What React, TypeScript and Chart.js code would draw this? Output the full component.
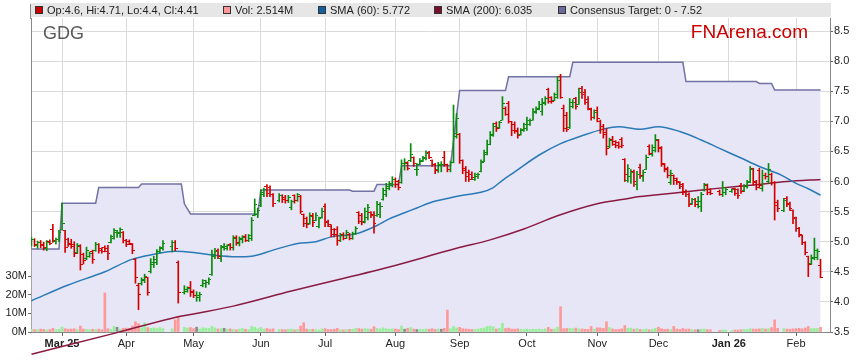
import { useEffect, useRef } from 'react';
import { Chart, registerables } from 'chart.js';

Chart.register(...registerables);

const FONT = '"Liberation Sans", Arial, Helvetica, sans-serif';

// ---- Daily OHLC (weekday slots from 17 Feb 2025 to 12 Feb 2026; null = market holiday) ----
const OPEN = [
  4.95, 5.03, 4.93, 4.98, 4.95, 4.89, 5.01, 5.20, 5.00, 5.03,
  5.20, 5.18, 5.04, 4.97, 4.95, 4.82, 4.92, 4.78, 4.72, 4.76,
  4.84, 4.86, 4.95, 4.88, 4.90, 4.88, 4.99, 5.06, 5.15, 5.14,
  5.15, 5.02, 5.00, 4.96, 4.70, 4.28, 4.30, 4.36, 4.40, 4.50,
  4.62, 4.66, 4.83, 4.88, null, null, 4.92, 4.98, 4.65, null,
  4.15, 4.17, 4.24, 4.18, 4.10, 4.07, 4.27, 4.30, 4.33, 4.45,
  4.76, 4.86, 4.72, 4.92, 4.88, 4.95, 4.90, 5.07, 4.97, 5.04,
  5.08, 5.02, 5.05, 5.44, 5.45, 5.60, 5.78, 5.92, 5.90, 5.78,
  null, 5.68, 5.76, 5.74, 5.68, 5.56, 5.76, 5.68, 5.75, 5.45,
  5.38, 5.30, 5.44, 5.36, 5.25, 5.40, 5.58, 5.34, 5.26, 5.20,
  5.20, 5.02, 5.12, 5.06, 5.12, 5.06, 5.14, 5.48, 5.44, 5.33,
  5.40, 5.48, 5.46, 5.44, 5.45, 5.70, 5.78, 5.88, 5.93, 6.04,
  6.00, 5.98, 6.30, 6.32, 6.35, 6.40, 6.20, 6.28, 6.34, 6.38,
  6.48, 6.35, 6.28, 6.20, 6.28, 6.40, 6.28, 6.20, 6.32, 6.75,
  6.78, 6.35, 6.22, 6.15, 6.12, 6.04, 6.08, 6.16, 6.34, 6.45,
  6.62, 6.76, 6.96, 6.90, 7.02, 7.22, 7.30, 7.00, 6.95, 6.85,
  6.78, 6.85, 6.88, 6.95, 7.02, 7.14, 7.20, 7.16, 7.30, 7.52,
  7.40, 7.35, 7.40, 7.75, 7.22, 7.10, 6.90, 7.25, 7.38, 7.28,
  7.55, 7.48, 7.36, 7.20, 7.06, 7.18, 7.00, 6.92, 6.82, 6.58,
  6.70, 6.66, 6.64, 6.70, 6.36, 6.02, 6.08, 6.16, 5.95, 6.24,
  6.08, 6.20, 6.58, 6.45, 6.52, 6.68, 6.56, 6.28, 6.22, 5.98,
  6.10, 6.05, 6.00, 5.95, 5.84, 5.78, 5.63, 5.70, 5.66, 5.58,
  5.85, 5.94, 5.86, null, null, 5.84, 5.78, 5.82, null, 5.84,
  5.88, 5.86, 5.94, 5.85, 5.92, 6.00, 6.22, 6.00, 6.18, 5.88,
  6.10, 6.00, 6.12, 5.98, 5.65, null, 5.52, 5.72, 5.64, 5.52,
  5.40, 5.22, 5.10, 4.98, 4.75, 4.64, 4.72, 4.74, 4.60,
];
const HIGH = [
  5.07, 5.05, 5.01, 5.02, 4.99, 5.02, 5.03, 5.29, 5.06, 5.19,
  5.64, 5.19, 5.06, 5.04, 5.00, 4.97, 4.95, 4.81, 4.91, 4.83,
  4.86, 4.99, 4.97, 4.90, 4.93, 4.94, 5.11, 5.22, 5.19, 5.23,
  5.17, 5.04, 5.03, 4.97, 4.72, 4.31, 4.40, 4.46, 4.41, 4.72,
  4.76, 4.87, 4.92, 5.02, null, null, 5.02, 5.02, 4.68, null,
  4.27, 4.25, 4.34, 4.20, 4.17, 4.16, 4.37, 4.36, 4.40, 4.86,
  4.89, 4.88, 4.94, 4.97, 4.95, 4.97, 5.10, 5.10, 5.08, 5.10,
  5.12, 5.12, 5.40, 5.71, 5.56, 5.86, 5.89, 5.95, 5.93, 5.80,
  null, 5.80, 5.78, 5.77, 5.77, 5.69, 5.78, 5.80, 5.77, 5.46,
  5.41, 5.48, 5.47, 5.48, 5.41, 5.56, 5.63, 5.36, 5.28, 5.22,
  5.25, 5.14, 5.15, 5.19, 5.14, 5.16, 5.25, 5.50, 5.47, 5.56,
  5.62, 5.50, 5.50, 5.67, 5.65, 5.89, 5.97, 6.00, 6.08, 6.06,
  6.02, 6.36, 6.38, 6.33, 6.63, 6.41, 6.30, 6.38, 6.42, 6.51,
  6.50, 6.36, 6.30, 6.32, 6.33, 6.50, 6.29, 6.34, 7.27, 7.13,
  6.80, 6.36, 6.25, 6.19, 6.16, 6.14, 6.14, 6.36, 6.52, 6.69,
  6.83, 6.97, 6.99, 7.00, 7.41, 7.24, 7.33, 7.00, 6.99, 6.89,
  6.88, 6.97, 7.07, 7.04, 7.21, 7.24, 7.33, 7.38, 7.41, 7.55,
  7.41, 7.47, 7.74, 7.78, 7.27, 7.15, 7.38, 7.36, 7.40, 7.55,
  7.58, 7.53, 7.41, 7.22, 7.19, 7.24, 7.02, 6.95, 6.88, 6.72,
  6.75, 6.68, 6.66, 6.73, 6.38, 6.28, 6.20, 6.19, 6.17, 6.29,
  6.19, 6.44, 6.61, 6.61, 6.78, 6.70, 6.58, 6.30, 6.24, 6.19,
  6.11, 6.06, 6.00, 5.97, 5.86, 5.81, 5.72, 5.72, 5.75, 5.82,
  5.97, 5.96, 5.88, null, null, 5.86, 6.00, 5.89, null, 5.88,
  5.89, 5.88, 5.97, 5.95, 6.02, 6.25, 6.22, 6.02, 6.22, 6.19,
  6.14, 6.30, 6.14, 6.00, 5.69, null, 5.72, 5.75, 5.66, 5.53,
  5.41, 5.24, 5.11, 5.00, 4.76, 4.78, 5.06, 4.88, 4.71,
];
const LOW = [
  4.93, 4.92, 4.89, 4.90, 4.86, 4.85, 4.95, 4.99, 4.96, 5.00,
  5.19, 4.82, 4.92, 4.89, 4.75, 4.80, 4.53, 4.63, 4.70, 4.74,
  4.64, 4.84, 4.81, 4.81, 4.83, 4.70, 4.98, 5.04, 5.07, 5.07,
  4.98, 4.92, 4.95, 4.80, 4.31, 3.87, 4.28, 4.32, 4.11, 4.48,
  4.57, 4.62, 4.81, 4.86, null, null, 4.83, 4.85, 3.98, null,
  4.13, 4.16, 4.09, 4.07, 4.01, 4.01, 4.25, 4.24, 4.29, 4.44,
  4.72, 4.72, 4.67, 4.86, 4.86, 4.86, 4.86, 4.94, 4.93, 4.98,
  5.00, 5.00, 5.02, 5.43, 5.40, 5.58, 5.75, 5.75, 5.75, 5.58,
  null, 5.66, 5.65, 5.64, 5.65, 5.53, 5.64, 5.67, 5.47, 5.25,
  5.23, 5.29, 5.25, 5.35, 5.23, 5.39, 5.25, 5.25, 5.08, 5.08,
  4.94, 5.00, 5.03, 5.05, 5.03, 5.04, 5.12, 5.30, 5.28, 5.31,
  5.36, 5.40, 5.14, 5.42, 5.40, 5.69, 5.75, 5.86, 5.91, 5.90,
  5.86, 5.97, 6.19, 6.19, 6.33, 6.25, 6.10, 6.28, 6.33, 6.36,
  6.38, 6.25, 6.13, 6.15, 6.16, 6.25, 6.16, 6.16, 6.31, 6.72,
  6.30, 6.13, 6.00, 6.00, 6.03, 6.02, 6.05, 6.16, 6.33, 6.44,
  6.61, 6.75, 6.83, 6.88, 7.02, 7.10, 6.97, 6.76, 6.80, 6.72,
  6.77, 6.83, 6.85, 6.93, 7.02, 7.13, 7.19, 7.10, 7.27, 7.30,
  7.30, 7.34, 7.38, 7.38, 6.83, 6.83, 6.88, 7.22, 7.20, 7.28,
  7.38, 7.28, 7.19, 7.02, 7.04, 6.99, 6.80, 6.72, 6.44, 6.56,
  6.60, 6.56, 6.55, 6.56, 6.00, 5.99, 5.97, 5.92, 5.86, 6.05,
  6.00, 6.20, 6.44, 6.42, 6.49, 6.49, 6.25, 6.16, 6.06, 5.95,
  5.95, 5.95, 5.88, 5.78, 5.75, 5.58, 5.62, 5.58, 5.56, 5.50,
  5.84, 5.78, 5.78, null, null, 5.77, 5.75, 5.78, null, 5.82,
  5.77, 5.72, 5.80, 5.83, 5.89, 5.98, 5.94, 5.86, 5.89, 5.84,
  6.04, 5.97, 5.94, 5.36, 5.50, null, 5.50, 5.58, 5.52, 5.30,
  5.17, 5.08, 4.95, 4.78, 4.42, 4.62, 4.70, 4.70, 4.40,
];
const CLOSE = [
  5.03, 4.95, 4.99, 4.93, 4.90, 4.99, 4.97, 5.02, 5.04, 5.15,
  5.30, 4.90, 4.95, 4.92, 4.80, 4.93, 4.62, 4.68, 4.86, 4.80,
  4.70, 4.95, 4.86, 4.84, 4.84, 4.80, 5.08, 5.18, 5.15, 5.20,
  5.02, 4.96, 4.97, 4.85, 4.40, 4.12, 4.37, 4.42, 4.15, 4.66,
  4.70, 4.83, 4.90, 4.97, null, null, 4.98, 4.88, 4.15, null,
  4.20, 4.22, 4.15, 4.10, 4.10, 4.12, 4.35, 4.33, 4.38, 4.78,
  4.84, 4.76, 4.90, 4.92, 4.93, 4.90, 5.05, 4.98, 5.05, 5.07,
  5.02, 5.10, 5.36, 5.62, 5.52, 5.82, 5.87, 5.80, 5.78, 5.64,
  null, 5.76, 5.70, 5.68, 5.74, 5.66, 5.68, 5.78, 5.50, 5.30,
  5.28, 5.42, 5.32, 5.44, 5.38, 5.50, 5.32, 5.28, 5.12, 5.12,
  5.02, 5.10, 5.06, 5.15, 5.06, 5.14, 5.22, 5.34, 5.32, 5.50,
  5.56, 5.44, 5.30, 5.62, 5.58, 5.85, 5.92, 5.96, 6.04, 5.95,
  5.90, 6.30, 6.30, 6.22, 6.45, 6.30, 6.20, 6.35, 6.40, 6.46,
  6.40, 6.28, 6.18, 6.26, 6.28, 6.28, 6.20, 6.31, 6.80, 7.05,
  6.35, 6.18, 6.08, 6.04, 6.06, 6.12, 6.12, 6.32, 6.48, 6.62,
  6.78, 6.92, 6.88, 6.98, 7.30, 7.12, 7.00, 6.85, 6.83, 6.76,
  6.86, 6.94, 7.02, 7.01, 7.16, 7.21, 7.28, 7.32, 7.38, 7.33,
  7.33, 7.44, 7.68, 7.40, 6.88, 6.86, 7.32, 7.32, 7.25, 7.48,
  7.45, 7.32, 7.22, 7.06, 7.15, 7.04, 6.86, 6.78, 6.55, 6.68,
  6.62, 6.60, 6.58, 6.60, 6.12, 6.22, 6.15, 6.00, 6.12, 6.10,
  6.15, 6.40, 6.47, 6.56, 6.70, 6.55, 6.30, 6.20, 6.10, 6.14,
  6.02, 5.98, 5.92, 5.82, 5.78, 5.62, 5.70, 5.62, 5.66, 5.78,
  5.95, 5.82, 5.80, null, null, 5.79, 5.90, 5.86, null, 5.86,
  5.80, 5.76, 5.84, 5.92, 5.98, 6.20, 5.98, 5.90, 5.94, 6.10,
  6.08, 6.20, 5.98, 5.60, 5.55, null, 5.68, 5.62, 5.55, 5.38,
  5.22, 5.12, 4.98, 4.82, 4.62, 4.74, 4.86, 4.84, 4.41,
];
// Daily volume in millions of shares
const VOLUME = [
  1.5, 1.3, 1.2, 1.6, 1.4, 1.1, 1.3, 2.0, 1.2, 1.5,
  2.6, 1.8, 1.5, 1.6, 1.7, 1.2, 3.2, 1.6, 1.4, 1.2,
  1.5, 1.3, 1.6, 1.2, 21.0, 1.8, 1.4, 3.0, 2.5, 1.5,
  2.0, 2.1, 1.9, 3.2, 5.5, 4.5, 2.2, 5.0, 2.4, 2.0,
  2.2, 1.9, 2.4, 1.8, null, null, 1.7, 6.5, 8.5, null,
  2.5, 2.2, 2.4, 1.8, 2.6, 1.6, 2.3, 2.1, 1.9, 3.0,
  2.2, 1.6, 1.8, 2.0, 1.5, 1.7, 1.4, 1.2, 1.6, 1.9,
  1.5, 1.3, 3.0, 2.6, 1.8, 2.4, 1.6, 1.9, 1.5, 1.7,
  null, 1.4, 1.3, 1.2, 1.5, 1.6, 1.1, 1.4, 3.2, 5.0,
  1.6, 1.4, 1.5, 1.2, 1.1, 1.7, 1.8, 1.4, 1.3, 1.5,
  2.0, 1.2, 1.1, 1.3, 1.4, 1.5, 2.0, 1.9, 1.6, 1.8,
  1.7, 1.5, 2.9, 1.9, 1.6, 2.2, 1.8, 1.5, 1.7, 1.6,
  1.4, 3.2, 1.5, 2.0, 2.4, 1.6, 1.3, 1.5, 1.4, 1.6,
  1.5, 1.8, 1.4, 1.6, 1.5, 2.0, 11.8, 1.7, 3.0, 2.2,
  2.5, 1.8, 1.6, 1.5, 1.4, 1.3, 1.6, 1.9, 2.2, 3.0,
  3.1, 2.8, 1.6, 2.0, 4.7, 1.9, 2.1, 1.6, 1.5, 1.7,
  1.4, 1.3, 1.6, 1.2, 1.5, 1.4, 1.6, 1.3, 1.7, 2.5,
  1.5, 1.6, 2.6, 13.6, 1.8, 1.9, 2.0, 1.8, 2.1, 1.7,
  1.6, 1.5, 1.4, 3.0, 1.6, 2.3, 2.2, 1.9, 5.5, 2.4,
  1.6, 1.3, 1.4, 1.7, 3.5, 2.0, 2.1, 1.5, 1.8, 1.4,
  1.3, 1.6, 1.2, 1.5, 2.0, 2.6, 1.8, 1.4, 1.5, 1.3,
  3.0, 1.6, 1.4, 1.9, 1.5, 1.6, 1.3, 1.2, 1.2, 1.5,
  1.6, 1.3, 1.2, null, null, 0.9, 1.1, 1.0, null, 0.8,
  1.1, 1.0, 1.2, 1.4, 1.3, 1.8, 1.6, 1.5, 1.7, 1.9,
  1.6, 1.8, 2.4, 6.5, 2.0, null, 1.9, 1.6, 1.5, 1.7,
  1.8, 2.0, 1.7, 2.2, 3.0, 1.8, 1.9, 1.9, 2.514,
];

// Moving averages and consensus target (day index, value)
const SMA60_DAY = [0, 12, 24, 33, 40, 47, 53, 59, 67, 72, 79, 87, 93, 98, 106, 113, 117, 122, 126, 131, 137, 142, 147, 151, 154, 158, 166, 173, 180, 187, 192, 199, 205, 212, 219, 225, 232, 238, 245, 250, 254, 258];
const SMA60_VAL = [4.02, 4.28, 4.50, 4.71, 4.79, 4.84, 4.82, 4.78, 4.75, 4.76, 4.86, 4.97, 5.00, 5.08, 5.13, 5.27, 5.38, 5.48, 5.56, 5.66, 5.73, 5.78, 5.82, 5.90, 6.02, 6.16, 6.44, 6.63, 6.76, 6.87, 6.91, 6.87, 6.91, 6.83, 6.69, 6.55, 6.39, 6.25, 6.11, 5.97, 5.88, 5.772];
const SMA200_DAY = [0, 28, 46, 53, 66, 85, 117, 139, 150, 161, 172, 185, 193, 199, 203, 214, 225, 236, 247, 258];
const SMA200_VAL = [3.13, 3.49, 3.73, 3.80, 3.93, 4.18, 4.58, 4.89, 5.03, 5.21, 5.43, 5.63, 5.70, 5.75, 5.77, 5.83, 5.89, 5.94, 6.00, 6.035];
const TARGET_DAY = [0, 9, 10, 21, 22, 35, 36, 49, 50, 52, 74, 75, 104, 105, 112, 113, 120, 121, 137, 140, 155, 156, 176, 177, 213, 214, 237, 238, 242, 243, 258];
const TARGET_VAL = [4.88, 4.88, 5.64, 5.64, 5.90, 5.90, 5.96, 5.96, 5.63, 5.46, 5.46, 5.86, 5.86, 5.84, 5.84, 5.95, 5.95, 6.26, 6.26, 7.51, 7.51, 7.74, 7.74, 7.98, 7.98, 7.66, 7.66, 7.63, 7.63, 7.52, 7.52];

// Axes
const MONTH_DAY = [10, 31, 53, 75, 96, 119, 140, 162, 185, 205, 228, 250];
const MONTH_LABEL = ['Mar 25', 'Apr', 'May', 'Jun', 'Jul', 'Aug', 'Sep', 'Oct', 'Nov', 'Dec', 'Jan 26', 'Feb'];
const YEAR_DAY = [10, 228];
const PRICE_TICKS = [3.5, 4.0, 4.5, 5.0, 5.5, 6.0, 6.5, 7.0, 7.5, 8.0, 8.5];
const VOL_TICKS = [0, 10, 20, 30];

// Header texts
const LEGEND_TEXT = ['Op:4.6, Hi:4.71, Lo:4.4, Cl:4.41', 'Vol: 2.514M', 'SMA (60): 5.772', 'SMA (200): 6.035', 'Consensus Target: 0 - 7.52'];
const LEGEND_COLOR = ['#cc0000', '#ff9999', '#11609f', '#7a0c2c', '#6a6a9c'];
const LEGEND_X = [35, 223, 318, 434, 558];
const TICKER = 'GDG';
const BRAND = 'FNArena.com';

const UP = '#0a8a0a';
const DOWN = '#d40000';

function makeTick(color: string, side: 'open' | 'close') {
  const c = document.createElement('canvas');
  c.width = 5;
  c.height = 1;
  const g = c.getContext('2d')!;
  g.fillStyle = color;
  if (side === 'open') g.fillRect(0, 0, 2, 1);
  else g.fillRect(3, 0, 2, 1);
  return c;
}

const chromePlugin = {
  id: 'chrome',
  beforeDraw(chart: any) {
    const { ctx, chartArea } = chart;
    ctx.save();
    ctx.fillStyle = '#ffffff';
    ctx.fillRect(0, 0, chart.width, chart.height);
    ctx.fillStyle = '#e6e6e6';
    ctx.fillRect(chartArea.left, 3, chartArea.right - chartArea.left + 1, 14);
    ctx.strokeStyle = '#888888';
    ctx.lineWidth = 1;
    ctx.beginPath();
    ctx.moveTo(chartArea.left - 0.5, 4);
    ctx.lineTo(chartArea.left - 0.5, chartArea.top + 1);
    ctx.stroke();
    ctx.font = `11px ${FONT}`;
    ctx.textBaseline = 'middle';
    ctx.textAlign = 'left';
    LEGEND_TEXT.forEach((t, k) => {
      const x = LEGEND_X[k];
      ctx.fillStyle = LEGEND_COLOR[k];
      ctx.fillRect(x, 6, 8, 8);
      ctx.strokeStyle = '#333333';
      ctx.strokeRect(x + 0.5, 6.5, 7, 7);
      ctx.fillStyle = '#222222';
      ctx.fillText(t, x + 12, 10.5);
    });
    ctx.restore();
  },
  afterDraw(chart: any) {
    const { ctx, chartArea } = chart;
    ctx.save();
    ctx.textBaseline = 'alphabetic';
    ctx.textAlign = 'left';
    ctx.font = `18px ${FONT}`;
    ctx.fillStyle = '#5a5a5a';
    ctx.fillText(TICKER, chartArea.left + 12, 39);
    ctx.textAlign = 'right';
    ctx.font = `19px ${FONT}`;
    ctx.fillStyle = '#cc0000';
    ctx.fillText(BRAND, 808, 38);
    ctx.restore();
  },
};

export default function App() {
  const ref = useRef<HTMLCanvasElement>(null);

  useEffect(() => {
    const canvas = ref.current;
    if (!canvas) return;

    const days = OPEN.map((o, i) => (o == null ? -1 : i)).filter((i) => i >= 0);
    const dir = (i: number) => ((CLOSE[i] as number) > (OPEN[i] as number) ? 1 : (CLOSE[i] as number) < (OPEN[i] as number) ? -1 : 0);
    const ticks = {
      upOpen: makeTick(UP, 'open'),
      upClose: makeTick(UP, 'close'),
      dnOpen: makeTick(DOWN, 'open'),
      dnClose: makeTick(DOWN, 'close'),
    };

    const rangeData = days.map((i) => ({ x: i, y: [LOW[i], HIGH[i]] }));
    const rangeColors = days.map((i) => (dir(i) < 0 ? DOWN : UP));
    const openData = days.map((i) => ({ x: i, y: OPEN[i] }));
    const closeData = days.map((i) => ({ x: i, y: CLOSE[i] }));
    const volDays = VOLUME.map((v, i) => (v == null ? -1 : i)).filter((i) => i >= 0);
    const volData = volDays.map((i) => ({ x: i, y: VOLUME[i] }));
    const volColors = volDays.map((i) => {
      const d = OPEN[i] == null ? 1 : dir(i);
      return d > 0 ? '#99ee99' : d < 0 ? '#ff9999' : '#8a8a8a';
    });

    const chart = new Chart(canvas, {
      type: 'bar',
      data: {
        datasets: [
          {
            type: 'line',
            label: 'Consensus Target',
            data: TARGET_DAY.map((d, k) => ({ x: d, y: TARGET_VAL[k] })),
            yAxisID: 'y',
            borderColor: '#7272a4',
            borderWidth: 1.5,
            backgroundColor: '#e6e6f6',
            fill: 'start',
            pointRadius: 0,
            tension: 0,
            order: 10,
          },
          {
            type: 'bar',
            label: 'Vol',
            data: volData,
            yAxisID: 'vol',
            backgroundColor: volColors,
            barThickness: 2,
            grouped: false,
            borderWidth: 0,
            order: 9,
          },
          {
            type: 'line',
            label: 'SMA (200)',
            data: SMA200_DAY.map((d, k) => ({ x: d, y: SMA200_VAL[k] })),
            yAxisID: 'y',
            borderColor: '#8b1a42',
            borderWidth: 1.5,
            pointRadius: 0,
            cubicInterpolationMode: 'monotone',
            clip: false,
            fill: false,
            order: 8,
          },
          {
            type: 'line',
            label: 'SMA (60)',
            data: SMA60_DAY.map((d, k) => ({ x: d, y: SMA60_VAL[k] })),
            yAxisID: 'y',
            borderColor: '#2a7ab8',
            borderWidth: 1.5,
            pointRadius: 0,
            cubicInterpolationMode: 'monotone',
            fill: false,
            order: 7,
          },
          {
            type: 'bar',
            label: 'Range',
            data: rangeData as any,
            yAxisID: 'y',
            backgroundColor: rangeColors,
            barThickness: 1,
            grouped: false,
            borderWidth: 0,
            order: 3,
          },
          {
            type: 'scatter',
            label: 'Open',
            data: openData,
            yAxisID: 'y',
            pointRadius: 3,
            pointBorderWidth: 0,
            pointStyle: (c: any) => (dir(days[c.dataIndex]) < 0 ? ticks.dnOpen : ticks.upOpen),
            order: 2,
          },
          {
            type: 'scatter',
            label: 'Close',
            data: closeData,
            yAxisID: 'y',
            pointRadius: 3,
            pointBorderWidth: 0,
            pointStyle: (c: any) => (dir(days[c.dataIndex]) < 0 ? ticks.dnClose : ticks.upClose),
            order: 1,
          },
        ] as any,
      },
      options: {
        responsive: false,
        animation: false,
        devicePixelRatio: 1,
        events: [],
        layout: { padding: { top: 18, left: 0, right: 0, bottom: 0 } },
        plugins: {
          legend: { display: false },
          tooltip: { enabled: false },
          title: { display: false },
        },
        scales: {
          x: {
            type: 'linear',
            min: -0.15,
            max: 261.1,
            offset: false,
            afterBuildTicks: (s: any) => {
              s.ticks = MONTH_DAY.map((v) => ({ value: v }));
            },
            afterFit: (s: any) => {
              s.height = 31;
            },
            ticks: {
              autoSkip: false,
              maxRotation: 0,
              minRotation: 0,
              padding: 1,
              color: '#222222',
              font: (c: any) => ({
                family: FONT,
                size: 11,
                weight: c.tick && YEAR_DAY.includes(c.tick.value) ? 'bold' : 'normal',
              }),
              callback: (v: any) => {
                const k = MONTH_DAY.indexOf(v);
                return k >= 0 ? MONTH_LABEL[k] : '';
              },
            },
            grid: { color: '#dadada', tickLength: 4, tickColor: '#666666', offset: false },
            border: { color: '#888888' },
          },
          y: {
            type: 'linear',
            position: 'right',
            min: 3.5,
            max: 8.716,
            afterBuildTicks: (s: any) => {
              s.ticks = PRICE_TICKS.map((v) => ({ value: v }));
            },
            afterFit: (s: any) => {
              s.width = 29;
            },
            ticks: {
              padding: 1,
              color: '#222222',
              font: { family: FONT, size: 11 },
              callback: (v: any) => Number(v).toFixed(1),
            },
            grid: { color: '#dadada', tickLength: 3, tickColor: '#666666' },
            border: { color: '#888888' },
          },
          vol: {
            type: 'linear',
            position: 'left',
            min: 0,
            max: 168.8,
            afterBuildTicks: (s: any) => {
              s.ticks = VOL_TICKS.map((v) => ({ value: v }));
            },
            afterFit: (s: any) => {
              s.width = 31;
            },
            ticks: {
              padding: 1,
              color: '#222222',
              font: { family: FONT, size: 11 },
              callback: (v: any) => `${v}M`,
            },
            grid: { drawOnChartArea: false, tickLength: 3, tickColor: '#666666' },
            border: { color: '#888888' },
          },
        },
      } as any,
      plugins: [chromePlugin],
    });

    return () => {
      chart.destroy();
    };
  }, []);

  return (
    <div style={{ position: 'absolute', left: 0, top: 0, width: 859, height: 363 }}>
      <canvas ref={ref} width={859} height={363} style={{ display: 'block' }} />
    </div>
  );
}
